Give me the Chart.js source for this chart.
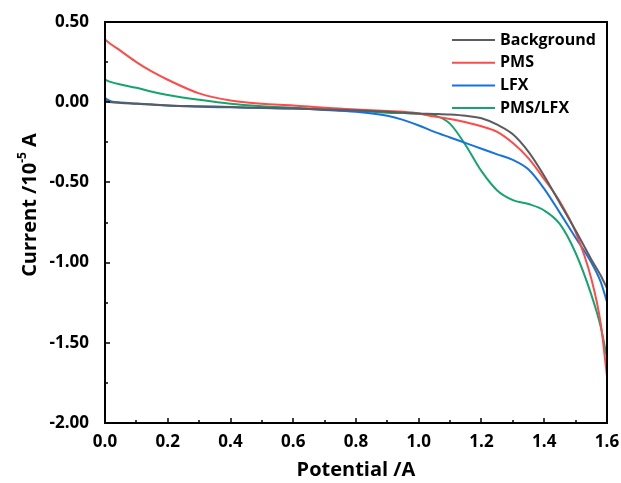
<!DOCTYPE html>
<html>
<head>
<meta charset="utf-8">
<script src="https://cdn.jsdelivr.net/npm/chart.js@4.4.1/dist/chart.umd.min.js"></script>
<style>
  html, body { margin: 0; padding: 0; background: #fff; }
  #wrap { width: 621px; height: 483px; }
</style>
</head>
<body>
<div id="wrap"><canvas id="cvChart" width="621" height="483"></canvas></div>
<script>
// Potential values shared by all curves
const potential = [0, 0.02, 0.05, 0.1, 0.15, 0.2, 0.3, 0.4, 0.5, 0.6, 0.7, 0.8, 0.9, 0.95,
                   1.0, 1.05, 1.1, 1.15, 1.2, 1.25, 1.3, 1.35, 1.4, 1.45, 1.5, 1.55, 1.58, 1.6];

const background = [0.01, 0.0, -0.005, -0.01, -0.015, -0.02, -0.025, -0.03, -0.035, -0.04, -0.045, -0.05, -0.06, -0.065,
                    -0.07, -0.073, -0.077, -0.085, -0.1, -0.14, -0.2, -0.31, -0.46, -0.63, -0.8, -0.98, -1.08, -1.16];
const pms = [0.39, 0.36, 0.32, 0.25, 0.19, 0.14, 0.055, 0.01, -0.01, -0.02, -0.035, -0.045, -0.055, -0.06,
             -0.07, -0.09, -0.105, -0.125, -0.15, -0.185, -0.255, -0.35, -0.48, -0.62, -0.81, -1.1, -1.38, -1.71];
const lfx = [0.025, 0.005, -0.002, -0.008, -0.014, -0.02, -0.028, -0.032, -0.036, -0.04, -0.048, -0.06, -0.085, -0.11,
             -0.145, -0.185, -0.22, -0.255, -0.29, -0.325, -0.36, -0.42, -0.54, -0.69, -0.845, -1.0, -1.12, -1.245];
const pmsLfx = [0.14, 0.125, 0.11, 0.09, 0.065, 0.045, 0.015, -0.01, -0.025, -0.035, -0.045, -0.055, -0.065, -0.068,
                -0.072, -0.082, -0.135, -0.27, -0.43, -0.55, -0.61, -0.635, -0.675, -0.76, -0.94, -1.2, -1.4, -1.595];

const seriesNames = ['Background', 'PMS', 'LFX', 'PMS/LFX'];
const seriesColors = ['#5c5c5c', '#ff4a4a', '#1673dd', '#14a56f'];
const seriesValues = [background, pms, lfx, pmsLfx];

const xTicks = [0, 0.2, 0.4, 0.6, 0.8, 1.0, 1.2, 1.4, 1.6];
const yTicks = [0.5, 0, -0.5, -1.0, -1.5, -2.0];

const FONT = '"Open Sans", "DejaVu Sans", sans-serif';

// Frame, inward ticks, rotated y title with superscript and the legend
const decorations = {
  id: 'decorations',
  afterDraw(chart) {
    const ctx = chart.ctx;
    const a = chart.chartArea;
    const xs = chart.scales.x, ys = chart.scales.y;
    ctx.save();
    ctx.strokeStyle = '#000';
    ctx.lineWidth = 2;
    ctx.strokeRect(a.left, a.top, a.right - a.left, a.bottom - a.top);

    ctx.lineWidth = 1.5;
    ctx.beginPath();
    for (let i = 0; i < xTicks.length; i++) {
      const px = Math.round(xs.getPixelForValue(xTicks[i]));
      ctx.moveTo(px, a.bottom); ctx.lineTo(px, a.bottom - 5);
      if (i < xTicks.length - 1) {
        const mx = Math.round(xs.getPixelForValue((xTicks[i] + xTicks[i + 1]) / 2));
        ctx.moveTo(mx, a.bottom); ctx.lineTo(mx, a.bottom - 3);
      }
    }
    for (let i = 0; i < yTicks.length; i++) {
      const py = Math.round(ys.getPixelForValue(yTicks[i]));
      ctx.moveTo(a.left, py); ctx.lineTo(a.left + 5, py);
      if (i < yTicks.length - 1) {
        const my = Math.round(ys.getPixelForValue((yTicks[i] + yTicks[i + 1]) / 2));
        ctx.moveTo(a.left, my); ctx.lineTo(a.left + 3, my);
      }
    }
    ctx.stroke();

    // y title: Current /10^-5 A
    ctx.fillStyle = '#000';
    ctx.translate(30, 205);
    ctx.rotate(-Math.PI / 2);
    ctx.textBaseline = 'middle';
    ctx.textAlign = 'left';
    const big = 'bold 20px ' + FONT, small = 'bold 12px ' + FONT;
    ctx.font = big;
    const w1 = ctx.measureText('Current /10').width;
    const w3 = ctx.measureText(' A').width;
    ctx.font = small;
    const w2 = ctx.measureText('-5').width;
    let x0 = -(w1 + w2 + w3) / 2;
    ctx.font = big;
    ctx.fillText('Current /10', x0, 0);
    ctx.font = small;
    ctx.fillText('-5', x0 + w1, -7);
    ctx.font = big;
    ctx.fillText(' A', x0 + w1 + w2, 0);
    ctx.restore();

    // legend
    ctx.save();
    ctx.font = 'bold 16px ' + FONT;
    ctx.textBaseline = 'middle';
    ctx.fillStyle = '#000';
    chart.data.datasets.forEach((ds, i) => {
      const y = 40 + i * 22.7;
      ctx.strokeStyle = ds.borderColor;
      ctx.lineWidth = 2;
      ctx.beginPath();
      ctx.moveTo(452, y); ctx.lineTo(495, y);
      ctx.stroke();
      ctx.fillText(ds.label, 500, y);
    });
    ctx.restore();
  }
};

new Chart(document.getElementById('cvChart').getContext('2d'), {
  type: 'line',
  data: {
    datasets: seriesNames.map((name, i) => ({
      label: name,
      data: potential.map((p, j) => ({ x: p, y: seriesValues[i][j] })),
      borderColor: seriesColors[i],
      borderWidth: 2,
      pointRadius: 0,
      fill: false,
      cubicInterpolationMode: 'monotone'
    }))
  },
  options: {
    responsive: false,
    animation: false,
    layout: { padding: { top: 22, right: 14, left: 0, bottom: 0 } },
    plugins: { legend: { display: false }, tooltip: { enabled: false } },
    scales: {
      x: {
        type: 'linear',
        min: 0, max: 1.6,
        afterBuildTicks: s => { s.ticks = xTicks.map(v => ({ value: v })); },
        afterFit: s => { s.height = 60; s.paddingLeft = 0; s.paddingRight = 0; },
        grid: { display: false, drawTicks: false },
        border: { display: false },
        ticks: {
          padding: 9,
          color: '#000',
          font: { family: FONT, size: 17, weight: 'bold' },
          maxRotation: 0,
          callback: v => v.toFixed(1)
        },
        title: {
          display: true,
          text: 'Potential /A',
          color: '#000',
          font: { family: FONT, size: 20, weight: 'bold' },
          padding: { top: 0, bottom: 1 }
        }
      },
      y: {
        type: 'linear',
        min: -2, max: 0.5,
        afterBuildTicks: s => { s.ticks = yTicks.map(v => ({ value: v })); },
        afterFit: s => { s.width = 105; s.paddingTop = 0; s.paddingBottom = 0; },
        grid: { display: false, drawTicks: false },
        border: { display: false },
        ticks: {
          padding: 16,
          color: '#000',
          font: { family: FONT, size: 17, weight: 'bold' },
          callback: v => v.toFixed(2)
        }
      }
    }
  },
  plugins: [decorations]
});
</script>
</body>
</html>
